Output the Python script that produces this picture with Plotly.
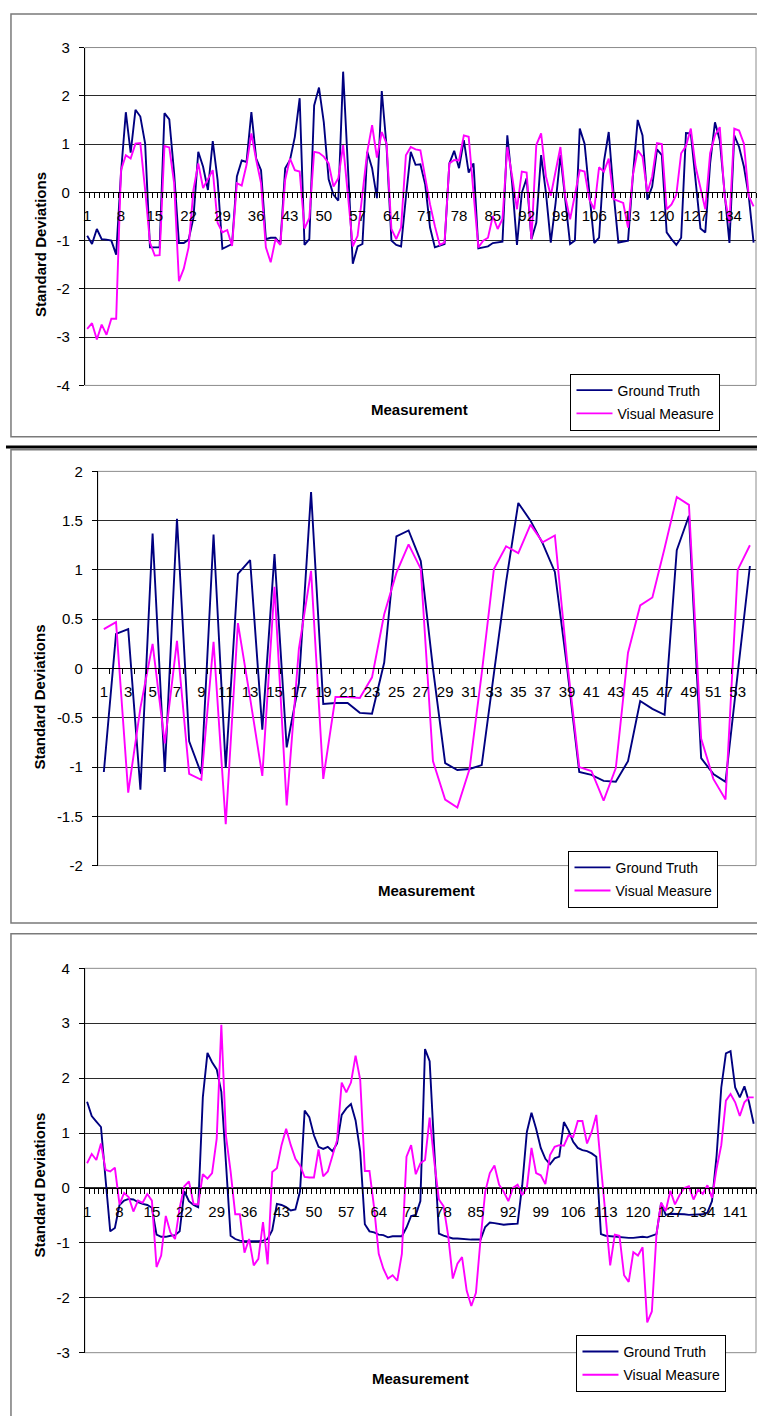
import plotly.graph_objects as go

# ---------------- data ----------------
p1_ground_truth = [
    -0.90, -1.07, -0.76, -0.97, -0.98, -1.00, -1.29, 0.40, 1.66, 0.82,
    1.71, 1.57, 1.01, -1.14, -1.14, -1.14, 1.64, 1.51, 0.40, -1.05,
    -1.05, -0.98, -0.53, 0.84, 0.53, 0.05, 1.06, 0.26, -1.17, -1.12,
    -1.07, 0.33, 0.66, 0.63, 1.66, 0.70, 0.46, -0.97, -0.94, -0.94,
    -1.07, 0.50, 0.67, 1.15, 1.95, -1.09, -0.97, 1.80, 2.17, 1.45,
    0.27, -0.05, -0.17, 2.50, 0.55, -1.48, -1.12, -1.07, 0.84, 0.50,
    -0.12, 2.10, 0.94, -1.00, -1.09, -1.12, -0.10, 0.84, 0.57, 0.58,
    0.16, -0.73, -1.14, -1.11, -1.07, 0.60, 0.86, 0.50, 1.08, 0.41,
    0.60, -1.16, -1.14, -1.12, -1.05, -1.04, -1.02, 1.18, 0.19, -1.09,
    -0.01, 0.29, -0.97, -0.63, 0.77, -0.01, -1.04, -0.22, 0.77, -0.15,
    -1.07, -1.00, 1.32, 1.01, -0.08, -1.05, -0.94, 0.63, 1.25, -0.01,
    -1.04, -1.02, -1.00, 0.33, 1.50, 1.18, -0.15, 0.12, 0.89, 0.77,
    -0.83, -0.97, -1.09, -0.94, 1.23, 1.22, 0.26, -0.75, -0.83, 0.60,
    1.45, 1.08, -0.01, -1.05, 1.18, 0.94, 0.53, -0.08, -1.04,
]
p1_visual_measure = [
    -2.83, -2.71, -3.05, -2.74, -2.95, -2.62, -2.62, 0.46, 0.77, 0.70,
    1.01, 1.02, 0.05, -1.04, -1.31, -1.30, 0.96, 0.93, 0.19, -1.84,
    -1.58, -1.14, 0.05, 0.60, 0.09, 0.26, 0.46, -0.63, -0.83, -0.78,
    -1.11, 0.19, 0.14, 0.57, 1.22, 0.67, 0.19, -1.14, -1.45, -0.97,
    -1.09, 0.26, 0.70, 0.46, 0.43, -0.75, -0.53, 0.84, 0.82, 0.74,
    0.60, 0.12, 0.29, 0.98, -0.01, -1.12, -0.90, -0.08, 0.84, 1.39,
    0.72, 1.25, 1.01, -0.76, -0.97, -0.73, 0.77, 0.94, 0.89, 0.87,
    0.33, -0.25, -0.70, -1.09, -1.04, 0.60, 0.67, 0.66, 1.18, 1.15,
    -0.01, -1.14, -1.00, -0.94, -0.49, -0.76, -0.55, 0.94, 0.33, -0.35,
    0.43, 0.41, -0.97, 0.98, 1.22, 0.33, -0.07, 0.46, 0.94, -0.08,
    -0.56, -0.05, 0.46, 0.43, -0.15, -0.35, 0.52, 0.43, 0.70, -0.14,
    -0.18, -0.22, -0.73, 0.36, 0.87, 0.74, -0.01, 0.33, 1.02, 1.00,
    -0.35, -0.25, -0.05, 0.81, 0.96, 1.32, 0.53, 0.09, -0.35, 0.81,
    1.18, 1.35, -0.08, -0.63, 1.32, 1.28, 1.01, -0.08, -0.29,
]

p2_ground_truth = [
    -1.05, 0.35, 0.40, -1.23, 1.37, -1.05, 1.52, -0.74, -1.07, 1.36,
    -1.01, 0.96, 1.10, -0.62, 1.16, -0.80, -0.15, 1.79, -0.36, -0.35,
    -0.35, -0.45, -0.46, 0.06, 1.34, 1.40, 1.09, 0.00, -0.96, -1.03,
    -1.02, -0.98, -0.05, 0.88, 1.68, 1.50, 1.27, 0.98, 0.01, -1.05,
    -1.08, -1.14, -1.15, -0.94, -0.33, -0.41, -0.47, 1.20, 1.55, -0.91,
    -1.07, -1.15, -0.05, 1.04,
]
p2_visual_measure = [
    0.40, 0.47, -1.26, -0.40, 0.25, -0.76, 0.28, -1.07, -1.13, 0.27,
    -1.58, 0.46, -0.30, -1.09, 0.83, -1.39, 0.20, 0.99, -1.12, -0.29,
    -0.29, -0.30, -0.09, 0.55, 0.97, 1.26, 1.01, -0.94, -1.33, -1.41,
    -1.02, -0.05, 1.01, 1.24, 1.17, 1.46, 1.28, 1.35, 0.08, -1.00,
    -1.04, -1.34, -1.01, 0.16, 0.64, 0.72, 1.22, 1.74, 1.66, -0.71,
    -1.12, -1.33, 1.00, 1.25,
]

p3_ground_truth = [
    1.57, 1.31, 1.21, 1.11, 0.15, -0.79, -0.73, -0.31, -0.23, -0.20,
    -0.21, -0.26, -0.29, -0.31, -0.36, -0.85, -0.89, -0.89, -0.87, -0.86,
    -0.79, -0.06, -0.24, -0.31, -0.35, 1.65, 2.46, 2.29, 2.16, 1.75,
    0.45, -0.87, -0.93, -0.96, -0.97, -0.97, -0.98, -0.97, -0.96, -0.93,
    -0.77, -0.29, -0.31, -0.35, -0.41, -0.39, -0.06, 1.41, 1.29, 0.96,
    0.75, 0.71, 0.75, 0.67, 0.81, 1.33, 1.45, 1.53, 1.23, 0.66,
    -0.66, -0.79, -0.81, -0.85, -0.86, -0.90, -0.88, -0.88, -0.88, -0.72,
    -0.51, -0.49, -0.24, 2.53, 2.31, 0.70, -0.83, -0.87, -0.90, -0.92,
    -0.92, -0.93, -0.94, -0.94, -0.94, -0.94, -0.71, -0.63, -0.64, -0.66,
    -0.67, -0.66, -0.65, -0.65, 0.05, 1.02, 1.37, 1.08, 0.73, 0.53,
    0.43, 0.54, 0.57, 1.20, 1.05, 0.84, 0.73, 0.69, 0.67, 0.63,
    0.57, -0.84, -0.87, -0.88, -0.89, -0.90, -0.91, -0.91, -0.91, -0.90,
    -0.89, -0.90, -0.87, -0.84, -0.27, -0.49, -0.47, -0.47, -0.47, -0.48,
    -0.49, -0.49, -0.49, -0.48, -0.45, -0.24, 0.60, 1.83, 2.45, 2.49,
    1.83, 1.65, 1.85, 1.56, 1.17,
]
p3_visual_measure = [
    0.45, 0.62, 0.51, 0.81, 0.33, 0.30, 0.37, -0.30, -0.09, -0.17,
    -0.43, -0.23, -0.27, -0.11, -0.23, -1.44, -1.23, -0.51, -0.81, -0.93,
    -0.36, 0.03, 0.12, -0.29, -0.30, 0.25, 0.17, 0.27, 0.90, 2.97,
    0.95, 0.30, -0.48, -0.48, -1.18, -0.93, -1.41, -1.29, -0.62, -1.39,
    0.29, 0.36, 0.78, 1.08, 0.78, 0.53, 0.41, 0.20, 0.19, 0.19,
    0.70, 0.21, 0.30, 0.57, 0.87, 1.92, 1.74, 1.92, 2.41, 1.97,
    0.31, 0.31, -0.36, -1.20, -1.47, -1.65, -1.59, -1.69, -1.20, 0.57,
    0.78, 0.25, 0.45, 0.51, 1.28, 0.48, -0.21, -0.33, -0.87, -1.65,
    -1.38, -1.26, -1.87, -2.15, -1.91, -0.93, -0.07, 0.27, 0.41, 0.06,
    -0.07, -0.24, 0.00, 0.06, -0.13, 0.00, 0.73, 0.27, 0.23, 0.07,
    0.60, 0.75, 0.78, 0.77, 0.96, 0.93, 1.22, 1.22, 0.81, 1.02,
    1.33, 0.40, -0.48, -1.41, -0.85, -0.87, -1.59, -1.71, -1.17, -1.23,
    -1.08, -2.45, -2.25, -0.84, -0.27, -0.42, -0.05, -0.30, -0.13, 0.00,
    0.03, -0.21, -0.03, -0.11, 0.05, -0.18, 0.36, 0.78, 1.59, 1.71,
    1.56, 1.31, 1.56, 1.65, 1.65,
]

p1_x_ticks = [1, 8, 15, 22, 29, 36, 43, 50, 57, 64, 71, 78, 85, 92, 99,
              106, 113, 120, 127, 134]
p2_x_ticks = [1, 3, 5, 7, 9, 11, 13, 15, 17, 19, 21, 23, 25, 27, 29, 31,
              33, 35, 37, 39, 41, 43, 45, 47, 49, 51, 53]
p3_x_ticks = [1, 8, 15, 22, 29, 36, 43, 50, 57, 64, 71, 78, 85, 92, 99,
              106, 113, 120, 127, 134, 141]

p1_y_ticks = [-4, -3, -2, -1, 0, 1, 2, 3]
p1_y_labels = ["-4", "-3", "-2", "-1", "0", "1", "2", "3"]
p2_y_ticks = [-2, -1.5, -1, -0.5, 0, 0.5, 1, 1.5, 2]
p2_y_labels = ["-2", "-1.5", "-1", "-0.5", "0", "0.5", "1", "1.5", "2"]
p3_y_ticks = [-3, -2, -1, 0, 1, 2, 3, 4]
p3_y_labels = ["-3", "-2", "-1", "0", "1", "2", "3", "4"]

series_names = ["Ground Truth", "Visual Measure"]
series_colors = ["#000080", "#FF00FF"]
y_title = "Standard Deviations"
x_title = "Measurement"

# ---------------- layout helpers (pixel -> paper) ----------------
W, H = 757, 1416
FONT = "Liberation Sans, Arial, sans-serif"


def fx(x):
    return x / W


def fy(y):
    return 1 - y / H


panels = [
    dict(gt=p1_ground_truth, vm=p1_visual_measure, xt=p1_x_ticks,
         yt=p1_y_ticks, yl=p1_y_labels, yr=(-4, 3),
         box=(83, 756, 39, 381), frame=(9, 5, 770, 433),
         legend=(570, 369), ytitle=(38, 238), xtitle=(419, 405)),
    dict(gt=p2_ground_truth, vm=p2_visual_measure, xt=p2_x_ticks,
         yt=p2_y_ticks, yl=p2_y_labels, yr=(-2, 2),
         box=(96, 756, 468, 867), frame=(9, 446, 770, 925),
         legend=(568, 852), ytitle=(38, 696), xtitle=(426, 892)),
    dict(gt=p3_ground_truth, vm=p3_visual_measure, xt=p3_x_ticks,
         yt=p3_y_ticks, yl=p3_y_labels, yr=(-3, 4),
         box=(83, 756, 971, 1360), frame=(9, 936, 770, 1430),
         legend=(576, 1342), ytitle=(38, 1190), xtitle=(420, 1386)),
]

fig = go.Figure()
layout = dict(
    width=W, height=H,
    margin=dict(l=0, r=0, t=0, b=0),
    paper_bgcolor="white", plot_bgcolor="white",
    font=dict(family=FONT, size=14, color="black"),
    showlegend=True,
)
shapes = []
annotations = []

for k, p in enumerate(panels, start=1):
    sfx = "" if k == 1 else str(k)
    xa, ya = "x" + sfx, "y" + sfx
    leg = "legend" + sfx
    n = len(p["gt"])
    cats = list(range(1, n + 1))
    for name, vals, col in zip(series_names, [p["gt"], p["vm"]], series_colors):
        fig.add_trace(go.Scatter(
            x=cats, y=vals, mode="lines", name=name,
            line=dict(color=col, width=1.9),
            xaxis=xa, yaxis=ya, legend=leg, legendgroup=f"{k}{name}",
            hoverinfo="skip",
        ))
    x0, x1, ytop, ybot = p["box"]
    ydom = [fy(ybot), fy(ytop)]
    ymin, ymax = p["yr"]
    zero_pos = ydom[0] + (0 - ymin) / (ymax - ymin) * (ydom[1] - ydom[0])
    layout["xaxis" + sfx] = dict(
        domain=[fx(x0), fx(x1)], range=[0.5, n + 0.5],
        anchor="free", position=zero_pos,
        showline=True, linecolor="black", linewidth=1,
        showgrid=False, zeroline=False,
        tickmode="array", tickvals=p["xt"], ticktext=[str(t) for t in p["xt"]],
        ticks="outside", ticklen=10, tickcolor="rgba(0,0,0,0)",
        tickfont=dict(family=FONT, size=15, color="black"),
        minor=dict(tickmode="linear", tick0=0.5, dtick=1, ticks="outside",
                   ticklen=5, tickwidth=1, tickcolor="black", showgrid=False),
        fixedrange=True,
    )
    layout["yaxis" + sfx] = dict(
        domain=ydom, range=[ymin, ymax], anchor=xa,
        showline=True, linecolor="black", linewidth=1,
        showgrid=True, gridcolor="#2b2b2b", gridwidth=1, zeroline=False,
        tickmode="array", tickvals=p["yt"], ticktext=p["yl"],
        ticks="outside", ticklen=5, tickcolor="black",
        ticklabelstandoff=6,
        tickfont=dict(family=FONT, size=15, color="black"),
        fixedrange=True,
    )
    # plot-area border (gray)
    shapes.append(dict(type="rect", xref=xa + " domain", yref=ya + " domain",
                       x0=0, x1=1, y0=0, y1=1,
                       line=dict(color="#8c8c8c", width=1), layer="below"))
    # chart frame
    fx0, fy0, fx1, fy1 = p["frame"]
    shapes.append(dict(type="rect", xref="paper", yref="paper",
                       x0=fx(fx0), x1=fx(fx1), y0=fy(fy1), y1=fy(fy0),
                       line=dict(color="#7a7a7a", width=1.5), layer="below"))
    lx, ly = p["legend"]
    layout[leg] = dict(
        x=fx(lx), y=fy(ly), xanchor="left", yanchor="top",
        bordercolor="black", borderwidth=1, bgcolor="white",
        font=dict(family=FONT, size=14, color="black"),
        traceorder="grouped", tracegroupgap=2,
        itemwidth=36,
    )
    tx, ty = p["ytitle"]
    annotations.append(dict(text="<b>" + y_title + "</b>", xref="paper", yref="paper",
                            x=fx(tx), y=fy(ty), showarrow=False, textangle=-90,
                            xanchor="center", yanchor="middle",
                            font=dict(family=FONT, size=15, color="black")))
    tx, ty = p["xtitle"]
    annotations.append(dict(text="<b>" + x_title + "</b>", xref="paper", yref="paper",
                            x=fx(tx), y=fy(ty), showarrow=False,
                            xanchor="center", yanchor="middle",
                            font=dict(family=FONT, size=15, color="black")))

# black separator between first and second chart
shapes.append(dict(type="line", xref="paper", yref="paper",
                   x0=fx(4), x1=1, y0=fy(443.3), y1=fy(443.3),
                   line=dict(color="black", width=3)))

layout["shapes"] = shapes
layout["annotations"] = annotations
fig.update_layout(**layout)

fig.write_html("out.html", post_script="document.body.style.margin='0px';",
               config={"displayModeBar": False})
